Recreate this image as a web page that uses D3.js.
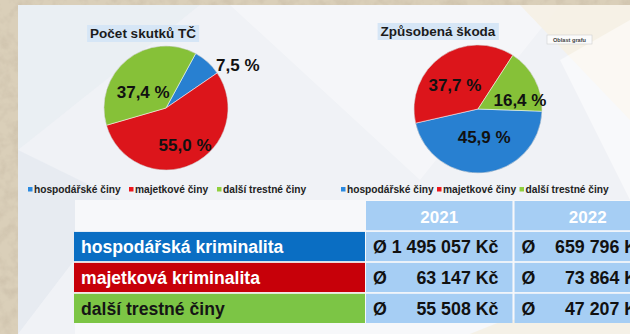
<!DOCTYPE html>
<html lang="cs">
<head>
<meta charset="utf-8">
<script src="https://cdn.jsdelivr.net/npm/d3@7"></script>
<style>
  html, body { margin: 0; padding: 0; background: #d8ccb4; }
  svg { display: block; }
  text { font-family: "Liberation Sans", Arial, sans-serif; font-weight: bold; }
</style>
</head>
<body>
<svg id="chart" width="630" height="334"></svg>
<script>
// ---- data ----
const categories = ["hospodářské činy", "majetkové činy", "další trestné činy"];
const countShares = [7.5, 55.0, 37.4];      // Počet skutků TČ (%)
const damageShares = [45.9, 37.7, 16.4];    // Způsobená škoda (%)
const chartTitles = ["Počet skutků TČ", "Způsobená škoda"];
const rowLabels = ["hospodářská kriminalita", "majetková kriminalita", "další trestné činy"];
const years = ["2021", "2022"];
const avg2021 = [1495057, 63147, 55508];
const avg2022 = [659796, 73864, 47207];

// ---- styling ----
const seriesColors = ["#2b8ae0", "#ec171d", "#90cf3c"];
const rowColors = ["#0a6ec3", "#c70009", "#7cc545"];
const rowTextColors = ["#ffffff", "#ffffff", "#151515"];
const cellColor = "#a6cef4";

const svg = d3.select("#chart");
const W = 630, H = 334;
const defs = svg.append("defs");

// stone texture around the slide
const stone = defs.append("filter").attr("id", "stone").attr("x", 0).attr("y", 0).attr("width", 1).attr("height", 1);
stone.append("feTurbulence").attr("type", "fractalNoise").attr("baseFrequency", 0.09).attr("numOctaves", 3).attr("seed", 4);
stone.append("feColorMatrix").attr("type", "matrix")
  .attr("values", "0 0 0 0 0.55  0 0 0 0 0.47  0 0 0 0 0.36  0 0 0 1.4 -0.55");
svg.append("rect").attr("width", W).attr("height", H).attr("fill", "#dacfb9");
svg.append("rect").attr("width", W).attr("height", H).attr("filter", "url(#stone)").attr("opacity", 0.7);

// slide panel
const panel = svg.append("g");
panel.append("rect").attr("x", 18).attr("y", 5).attr("width", W - 18).attr("height", H - 5).attr("fill", "#f0f2f6");
panel.append("polygon").attr("points", "18,5 200,5 18,150").attr("fill", "#e9edf3").attr("opacity", 0.8);
panel.append("polygon").attr("points", "18,150 120,200 18,334").attr("fill", "#e6eaf1").attr("opacity", 0.9);
panel.append("polygon").attr("points", "75,200 630,200 630,334 75,334").attr("fill", "#f7f8fa");
panel.append("polygon").attr("points", "230,5 420,180 560,5").attr("fill", "#ffffff").attr("opacity", 0.35);
panel.append("polygon").attr("points", "520,5 630,5 630,120").attr("fill", "#f6f1e4").attr("opacity", 0.9);
panel.append("polygon").attr("points", "560,60 630,20 630,200").attr("fill", "#ffffff").attr("opacity", 0.5);
panel.append("polygon").attr("points", "500,322 630,300 630,334 470,334").attr("fill", "#f4efe2").attr("opacity", 0.8);

// radial shading for the pie slices
function shade(id, base, cx, cy, r) {
  const g = defs.append("radialGradient").attr("id", id).attr("gradientUnits", "userSpaceOnUse")
    .attr("cx", cx).attr("cy", cy).attr("r", r);
  const c = d3.color(base);
  g.append("stop").attr("offset", "0%").attr("stop-color", c.brighter(0.3));
  g.append("stop").attr("offset", "85%").attr("stop-color", c);
  g.append("stop").attr("offset", "100%").attr("stop-color", c.darker(0.2));
}

const pies = [
  { title: chartTitles[0], values: countShares, cx: 166, cy: 108, r: 62, start: 28.6,
    titleX: 143, titleY: 38, labelPos: [{ rf: 1.35, shift: 17 }, { rf: 0.67, shift: -2 }, { rf: 0.45, shift: -16 }],
    legendX: [28, 129, 217], legendY: 190 },
  { title: chartTitles[1], values: damageShares, cx: 478, cy: 109, r: 64, start: 92,
    titleX: 438, titleY: 36, labelPos: [{ rf: 0.45, shift: -7 }, { rf: 0.52, shift: -9 }, { rf: 0.67, shift: 15.5 }],
    legendX: [341, 437, 519.5], legendY: 190 }
];

const fmtPct = v => d3.format(".1f")(v).replace(".", ",") + " %";

pies.forEach((p, pi) => {
  const g = svg.append("g");
  seriesColors.forEach((c, i) => shade(`sh${pi}_${i}`, c, p.cx - p.r * 0.2, p.cy - p.r * 0.25, p.r * 1.55));

  const pie = d3.pie().sort(null).value(d => d)
    .startAngle(p.start * Math.PI / 180).endAngle(p.start * Math.PI / 180 + 2 * Math.PI);
  const arcs = pie(p.values);
  const arc = d3.arc().innerRadius(0).outerRadius(p.r);

  // title with highlight box
  const t = g.append("text").attr("x", p.titleX).attr("y", p.titleY).attr("text-anchor", "middle")
    .attr("font-size", 13.5).attr("fill", "#1b1b1b").text(p.title);
  const bb = t.node().getBBox();
  g.insert("rect", "text").attr("x", bb.x - 3).attr("y", bb.y - 1).attr("width", bb.width + 6).attr("height", bb.height + 2)
    .attr("fill", "#d6e6f6");

  const slices = g.append("g").attr("transform", `translate(${p.cx},${p.cy})`);
  slices.selectAll("path").data(arcs).join("path")
    .attr("d", arc)
    .attr("fill", (d, i) => `url(#sh${pi}_${i})`)
    .attr("stroke", "rgba(255,255,255,0.5)").attr("stroke-width", 1);
  slices.append("circle").attr("r", p.r).attr("fill", "none").attr("stroke", "rgba(0,0,0,0.1)").attr("stroke-width", 1);

  slices.selectAll("text.lbl").data(arcs).join("text").attr("class", "lbl")
    .attr("transform", (d, i) => {
      const lp = p.labelPos[i];
      const a = (d.startAngle + d.endAngle) / 2 + lp.shift * Math.PI / 180;
      const rr = p.r * lp.rf;
      return `translate(${Math.sin(a) * rr},${-Math.cos(a) * rr})`;
    })
    .attr("text-anchor", "middle").attr("dy", "0.36em")
    .attr("font-size", 17).attr("fill", "#111").text(d => fmtPct(d.data));

  // legend
  const lg = g.append("g");
  categories.forEach((c, i) => {
    lg.append("rect").attr("x", p.legendX[i]).attr("y", p.legendY - 3).attr("width", 4.5).attr("height", 4.5).attr("fill", seriesColors[i]);
    lg.append("text").attr("x", p.legendX[i] + 6).attr("y", p.legendY).attr("dy", "0.33em")
      .attr("font-size", 10.2).attr("fill", "#222").text(c);
  });
});

// chart-area tooltip
const tip = svg.append("g");
tip.append("rect").attr("x", 547).attr("y", 35).attr("width", 45).attr("height", 9).attr("fill", "#fbfbfb")
  .attr("stroke", "#d0d0d0").attr("stroke-width", 0.6);
tip.append("text").attr("x", 569.5).attr("y", 39.6).attr("dy", "0.35em").attr("text-anchor", "middle")
  .attr("font-size", 5.6).attr("font-weight", "normal").attr("fill", "#444").text("Oblast grafu");

// ---- table ----
const rowKeys = ["header", ...rowLabels];
const y = d3.scaleBand().domain(rowKeys).range([201, 323]).paddingInner(0.055);
const x = d3.scaleBand().domain(years).range([366, 661]).paddingInner(0.014);
const labelX0 = 74, labelX1 = 365;
const table = svg.append("g");
const values = { "2021": avg2021, "2022": avg2022 };
const fmtKc = v => d3.format(",")(v).replace(/,/g, " ") + " Kč";

rowLabels.forEach((lab, i) => {
  const y0 = y(lab), h = y.bandwidth();
  table.append("rect").attr("x", labelX0).attr("y", y0).attr("width", labelX1 - labelX0).attr("height", h).attr("fill", rowColors[i]);
  table.append("text").attr("x", labelX0 + 7).attr("y", y0 + h / 2).attr("dy", "0.36em")
    .attr("font-size", 17.6).attr("fill", rowTextColors[i]).text(lab);
});

years.forEach(yr => {
  const x0 = x(yr), w = x.bandwidth();
  table.append("rect").attr("x", x0).attr("y", y("header")).attr("width", w).attr("height", y.bandwidth()).attr("fill", cellColor);
  table.append("text").attr("x", x0 + w / 2).attr("y", y("header") + y.bandwidth() / 2 + 1).attr("dy", "0.36em")
    .attr("text-anchor", "middle").attr("font-size", 17).attr("fill", "#ffffff").text(yr);
  rowLabels.forEach((lab, i) => {
    const y0 = y(lab), h = y.bandwidth();
    table.append("rect").attr("x", x0).attr("y", y0).attr("width", w).attr("height", h).attr("fill", cellColor);
    table.append("text").attr("x", x0 + 7).attr("y", y0 + h / 2).attr("dy", "0.36em")
      .attr("font-size", 17.8).attr("fill", "#111").text("Ø");
    table.append("text").attr("x", x0 + w - 14).attr("y", y0 + h / 2).attr("dy", "0.36em")
      .attr("text-anchor", "end").attr("font-size", 17.8).attr("fill", "#111").text(fmtKc(values[yr][i]));
  });
});
</script>
</body>
</html>
